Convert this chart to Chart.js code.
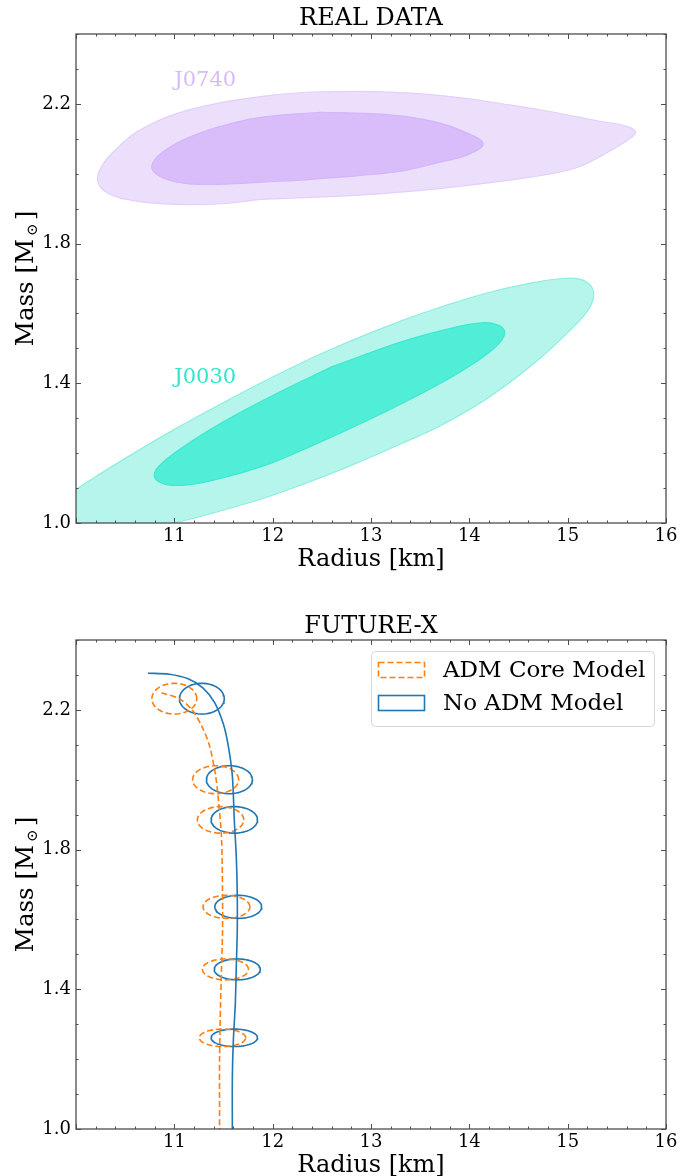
<!DOCTYPE html>
<html>
<head>
<meta charset="utf-8">
<script src="https://cdn.jsdelivr.net/npm/chart.js@4.4.0/dist/chart.umd.min.js"></script>
<style>
  html, body { margin: 0; padding: 0; background: #fff; overflow: hidden; width: 696px; height: 1176px; }
  .panel { position: absolute; left: 0; width: 696px; }
  #top { top: 0; }
  #bot { top: 588px; }
</style>
</head>
<body>
<div class="panel" id="top"><canvas id="realChart" width="696" height="588"></canvas></div>
<div class="panel" id="bot"><canvas id="futureChart" width="696" height="606"></canvas></div>
<script>
// ---- data (radius in km, mass in solar masses) ----

// REAL DATA: credible-region outlines (each starts on a flat stretch of edge)
const j0740OuterR = [12.38, 13.06, 13.74, 14.41, 14.86, 15.31, 15.60, 15.69, 15.63, 15.36, 15.09, 14.64, 13.74, 12.84, 11.93, 11.48, 11.03, 10.58, 10.32, 10.22, 10.27, 10.40, 10.62, 11.00, 11.50, 12.00];
const j0740OuterM = [2.234, 2.235, 2.223, 2.197, 2.176, 2.151, 2.136, 2.120, 2.100, 2.054, 2.017, 1.991, 1.959, 1.938, 1.927, 1.914, 1.912, 1.923, 1.945, 1.980, 2.025, 2.068, 2.120, 2.170, 2.205, 2.225];
const j0740InnerR = [12.48, 13.00, 13.34, 13.70, 13.93, 14.14, 13.98, 13.70, 13.34, 12.90, 12.40, 11.90, 11.50, 11.15, 10.92, 10.78, 10.80, 10.95, 11.15, 11.45, 11.85];
const j0740InnerM = [2.176, 2.172, 2.164, 2.145, 2.122, 2.086, 2.054, 2.033, 2.009, 1.995, 1.984, 1.976, 1.970, 1.971, 1.984, 2.010, 2.040, 2.075, 2.104, 2.134, 2.160];
const j0030OuterR = [9.4, 10.0, 10.5, 11.0, 11.5, 12.0, 12.6, 13.3, 13.75, 14.2, 14.65, 14.95, 15.15, 15.26, 15.22, 15.00, 14.65, 14.20, 13.75, 13.30, 12.80, 12.30, 11.90, 11.45, 11.00, 10.50, 10.00, 9.60];
const j0030OuterM = [0.98, 1.096, 1.185, 1.268, 1.345, 1.418, 1.498, 1.578, 1.622, 1.660, 1.688, 1.700, 1.696, 1.665, 1.615, 1.545, 1.455, 1.360, 1.285, 1.226, 1.165, 1.110, 1.070, 1.033, 1.000, 0.970, 0.940, 0.930];
const j0030InnerR = [12.6, 13.3, 13.75, 14.12, 14.30, 14.36, 14.27, 14.05, 13.74, 13.30, 12.80, 12.35, 11.95, 11.50, 11.15, 10.92, 10.80, 10.84, 11.10, 11.50, 12.0];
const j0030InnerM = [1.447, 1.518, 1.553, 1.573, 1.566, 1.543, 1.505, 1.458, 1.405, 1.340, 1.272, 1.215, 1.168, 1.130, 1.110, 1.110, 1.130, 1.162, 1.220, 1.290, 1.365];

const tagNames = ['J0740', 'J0030'];
const tagR = [11.0, 11.0];
const tagM = [2.266, 1.417];
const tagColors = ['#d8b9fb', '#2ee6ca'];

// FUTURE-X: mass-radius curves
const noAdmR = [10.73, 10.95, 11.14, 11.29, 11.41, 11.50, 11.55, 11.59, 11.61, 11.63, 11.64, 11.64, 11.63, 11.62, 11.60, 11.59, 11.59];
const noAdmM = [2.305, 2.302, 2.289, 2.263, 2.221, 2.158, 2.095, 2.011, 1.884, 1.779, 1.674, 1.568, 1.463, 1.358, 1.253, 1.147, 1.0];
const admR = [10.87, 11.05, 11.18, 11.29, 11.36, 11.42, 11.45, 11.48, 11.49, 11.49, 11.48, 11.47, 11.46, 11.46];
const admM = [2.249, 2.232, 2.20, 2.147, 2.095, 2.011, 1.937, 1.832, 1.674, 1.568, 1.463, 1.358, 1.2, 1.0];

// FUTURE-X: measurement ellipses (centres and half-sizes)
const ellM = [2.232, 2.0, 1.885, 1.636, 1.457, 1.261];
const noAdmEllR = [11.28, 11.56, 11.61, 11.65, 11.64, 11.61];
const admEllR = [11.0, 11.42, 11.47, 11.53, 11.52, 11.49];
const ellHalfR = [0.228, 0.234, 0.236, 0.238, 0.234, 0.236];
const ellHalfM = [0.044, 0.040, 0.038, 0.033, 0.030, 0.025];

const legendLabels = ['ADM Core Model', 'No ADM Model'];

// ---- helpers ----
const FONT = "'DejaVu Serif', serif";
const BLUE = '#1f77b4';
const ORANGE = '#ff7f0e';
const DASH = [6, 3];

function pts(rs, ms, close) {
  const out = rs.map((r, i) => ({x: r, y: ms[i]}));
  if (close) out.push({x: rs[0], y: ms[0]});
  return out;
}

// outline of an axis-aligned ellipse around a read-off centre
function ellipse(cx, cy, a, b) {
  const out = [];
  for (let k = 0; k <= 64; k++) {
    const t = k / 64 * Math.PI * 2;
    out.push({x: cx + a * Math.cos(t), y: cy + b * Math.sin(t)});
  }
  return out;
}

const isMajorX = v => Math.abs(v - Math.round(v)) < 1e-6;
const isMajorY = v => { const k = (v - 1) / 0.4; return Math.abs(k - Math.round(k)) < 1e-6; };

// frame, inward ticks on all four sides, title, y title with subscript sun
const framePlugin = {
  id: 'frame',
  afterDraw(chart, args, opts) {
    const {ctx, chartArea: a, scales: {x, y}} = chart;
    ctx.save();
    ctx.strokeStyle = '#4d4d4d';
    ctx.lineWidth = 1;
    ctx.beginPath();
    x.ticks.forEach(t => {
      const px = Math.round(x.getPixelForValue(t.value)) + 0.5;
      const len = isMajorX(t.value) ? 5 : 2.5;
      ctx.moveTo(px, a.bottom); ctx.lineTo(px, a.bottom - len);
      ctx.moveTo(px, a.top); ctx.lineTo(px, a.top + len);
    });
    y.ticks.forEach(t => {
      const py = Math.round(y.getPixelForValue(t.value)) + 0.5;
      const len = isMajorY(t.value) ? 5 : 2.5;
      ctx.moveTo(a.left, py); ctx.lineTo(a.left + len, py);
      ctx.moveTo(a.right, py); ctx.lineTo(a.right - len, py);
    });
    ctx.stroke();
    ctx.lineWidth = 1.3;
    ctx.strokeRect(a.left, a.top, a.right - a.left, a.bottom - a.top);

    // panel title, centred over the plot area
    ctx.fillStyle = '#000';
    ctx.font = '24px ' + FONT;
    ctx.textAlign = 'center';
    ctx.textBaseline = 'middle';
    ctx.fillText(opts.title, (a.left + a.right) / 2, opts.titleY);

    // y axis title: Mass [M_sun]
    ctx.textAlign = 'left';
    ctx.translate(0, (a.top + a.bottom) / 2);
    ctx.rotate(-Math.PI / 2);
    ctx.textBaseline = 'alphabetic';
    ctx.font = '24.5px ' + FONT;
    const p1 = 'Mass [M', p3 = ']';
    const w1 = ctx.measureText(p1).width, w3 = ctx.measureText(p3).width;
    ctx.font = '15px ' + FONT;
    const w2 = ctx.measureText('\u2299').width;
    const gap = 3;
    let cx = -(w1 + gap + w2 + gap + w3) / 2;
    ctx.font = '24.5px ' + FONT;
    ctx.fillText(p1, cx, 33);
    cx += w1 + gap;
    ctx.font = '15px ' + FONT;
    ctx.fillText('\u2299', cx, 37);
    cx += w2 + gap;
    ctx.font = '24.5px ' + FONT;
    ctx.fillText(p3, cx, 33);
    ctx.restore();
  }
};

const tagPlugin = {
  id: 'tags',
  afterDatasetsDraw(chart) {
    const {ctx, scales: {x, y}} = chart;
    ctx.save();
    ctx.font = '21px ' + FONT;
    ctx.textBaseline = 'middle';
    tagNames.forEach((name, i) => {
      ctx.fillStyle = tagColors[i];
      ctx.fillText(name, x.getPixelForValue(tagR[i]), y.getPixelForValue(tagM[i]));
    });
    ctx.restore();
  }
};

const legendPlugin = {
  id: 'boxLegend',
  afterDraw(chart) {
    const {ctx, chartArea: a} = chart;
    const w = 283, h = 75;
    const lx = a.right - 12 - w, ly = a.top + 11;
    ctx.save();
    ctx.beginPath();
    ctx.roundRect(lx + 0.5, ly + 0.5, w, h, 4);
    ctx.fillStyle = 'rgba(255,255,255,0.8)';
    ctx.fill();
    ctx.strokeStyle = '#d6d6d6';
    ctx.lineWidth = 1;
    ctx.stroke();
    const styles = [{c: ORANGE, d: DASH}, {c: BLUE, d: []}];
    ctx.font = '23px ' + FONT;
    ctx.textBaseline = 'middle';
    legendLabels.forEach((lab, i) => {
      const cy = ly + 19 + i * 33;
      ctx.strokeStyle = styles[i].c;
      ctx.setLineDash(styles[i].d);
      ctx.lineWidth = 1.6;
      ctx.strokeRect(lx + 7.5, cy - 7.5, 46, 15);
      ctx.setLineDash([]);
      ctx.fillStyle = '#000';
      ctx.fillText(lab, lx + 72, cy + 1);
    });
    ctx.restore();
  }
};

function baseOptions(title, titleY, padTop, canvasH, areaBottom) {
  return {
    responsive: false,
    animation: false,
    events: [],
    layout: {padding: {left: 0, right: 30, top: padTop, bottom: 0}},
    plugins: {
      legend: {display: false},
      tooltip: {enabled: false},
      title: {display: false},
      frame: {title: title, titleY: titleY}
    },
    scales: {
      x: {
        type: 'linear', min: 10, max: 16,
        grid: {display: false, drawTicks: false},
        border: {display: false},
        ticks: {
          stepSize: 0.2, autoSkip: false, maxRotation: 0, padding: 3, color: '#000',
          font: {family: FONT, size: 18},
          callback: v => (isMajorX(v) && Math.abs(v - 10) > 1e-6) ? String(Math.round(v)) : ''
        },
        title: {
          display: true, text: 'Radius [km]', color: '#000',
          font: {family: FONT, size: 24, lineHeight: 1},
          padding: {top: 0, bottom: 16}
        },
        afterFit: s => { s.height = canvasH - areaBottom; }
      },
      y: {
        type: 'linear', min: 1.0, max: 2.4,
        grid: {display: false, drawTicks: false},
        border: {display: false},
        ticks: {
          stepSize: 0.1, autoSkip: false, padding: 5, color: '#000',
          font: {family: FONT, size: 18},
          callback: v => isMajorY(v) ? v.toFixed(1) : ''
        },
        afterFit: s => { s.width = 76; }
      }
    }
  };
}

function region(rs, ms, fillCol, edgeCol, order) {
  return {
    data: pts(rs, ms, true), showLine: true, fill: 'shape',
    backgroundColor: fillCol, borderColor: edgeCol, borderWidth: 1.2,
    pointRadius: 0, tension: 0.4, clip: 0, order: order
  };
}

new Chart(document.getElementById('realChart'), {
  type: 'scatter',
  data: {
    datasets: [
      region(j0740InnerR, j0740InnerM, '#d8bdfa', '#d3b5fa', 1),
      region(j0740OuterR, j0740OuterM, '#ecdffb', '#e2d0fa', 2),
      region(j0030InnerR, j0030InnerM, '#50eed7', '#3ee9d0', 1),
      region(j0030OuterR, j0030OuterM, '#b5f5eb', '#8eefdf', 2)
    ]
  },
  options: baseOptions('REAL DATA', 19, 34, 588, 523),
  plugins: [tagPlugin, framePlugin]
});

const futureSets = [
  {data: pts(noAdmR, noAdmM), showLine: true, fill: false, borderColor: BLUE, borderWidth: 1.6,
   pointRadius: 0, tension: 0.3, clip: 0},
  {data: pts(admR, admM), showLine: true, fill: false, borderColor: ORANGE, borderWidth: 1.6,
   borderDash: DASH, pointRadius: 0, tension: 0.3, clip: 0}
];
ellM.forEach((m, i) => {
  futureSets.push({data: ellipse(admEllR[i], m, ellHalfR[i], ellHalfM[i]), showLine: true, fill: false,
    borderColor: ORANGE, borderWidth: 1.6, borderDash: DASH, pointRadius: 0, tension: 0, clip: 0});
  futureSets.push({data: ellipse(noAdmEllR[i], m, ellHalfR[i], ellHalfM[i]), showLine: true, fill: false,
    borderColor: BLUE, borderWidth: 1.6, pointRadius: 0, tension: 0, clip: 0});
});

new Chart(document.getElementById('futureChart'), {
  type: 'scatter',
  data: {datasets: futureSets},
  options: baseOptions('FUTURE-X', 39, 52, 606, 541),
  plugins: [framePlugin, legendPlugin]
});
</script>
</body>
</html>
